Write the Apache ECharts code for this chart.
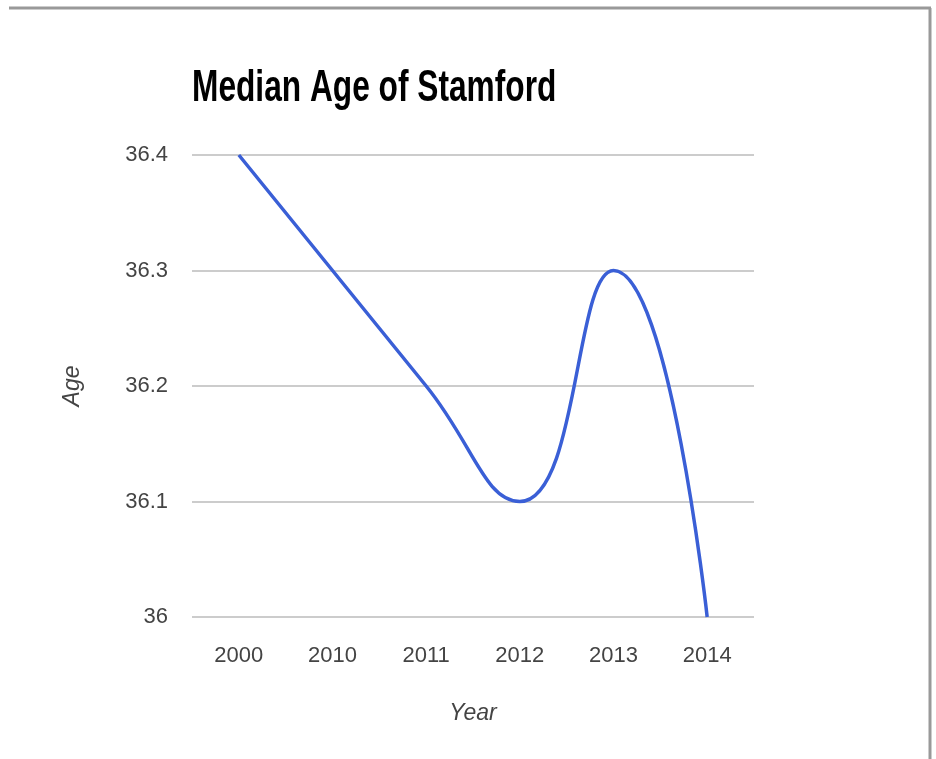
<!DOCTYPE html>
<html><head><meta charset="utf-8">
<script src="https://cdn.jsdelivr.net/npm/echarts@6/dist/echarts.min.js"></script>
<style>html,body{margin:0;padding:0;background:#fff}#c{width:936px;height:759px}</style>
</head><body><div id="c"></div>
<script>
const categories = ['2000','2010','2011','2012','2013','2014'];
const ageValues = [36.4, 36.3, 36.2, 36.1, 36.3, 36.0];
const titleText = 'Median Age of Stamford';
const xName = 'Year';
const yName = 'Age';
const FONT = '"Liberation Sans", Arial, sans-serif';
const chart = echarts.init(document.getElementById('c'), null, {renderer:'canvas'});
chart.setOption({
  backgroundColor: '#fff',
  animation: false,
  grid: {left: 192, right: 182, top: 155, bottom: 142},
  xAxis: {
    type: 'category', data: categories, boundaryGap: true,
    name: xName, nameLocation: 'middle', nameGap: 85,
    nameTextStyle: {fontFamily: FONT, fontStyle: 'italic', fontSize: 23, color: '#444'},
    axisLine: {show: false}, axisTick: {show: false},
    axisLabel: {fontFamily: FONT, fontSize: 22, color: '#444', margin: 28}
  },
  yAxis: {
    type: 'value', min: 36, max: 36.4, interval: 0.1,
    name: yName, nameLocation: 'middle', nameGap: 108, nameRotate: 90,
    nameTextStyle: {fontFamily: FONT, fontStyle: 'italic', fontSize: 23, color: '#444'},
    axisLine: {show: false}, axisTick: {show: false},
    axisLabel: {fontFamily: FONT, fontSize: 22, color: '#444', margin: 24},
    splitLine: {lineStyle: {color: '#cccccc', width: 2}}
  },
  series: [{
    type: 'line', data: ageValues, smooth: 0.5, symbol: 'none',
    lineStyle: {color: '#3a5fd6', width: 3.5}
  }],
  graphic: [
    {type: 'text', x: 192, y: 89, scaleX: 0.72,
     style: {text: titleText, font: 'bold 44px "Liberation Sans", Arial, sans-serif', fill: '#000', verticalAlign: 'middle', align: 'left'}},
    {type: 'line', shape: {x1: 9, y1: 8, x2: 931, y2: 8}, style: {stroke: '#999', lineWidth: 3}},
    {type: 'line', shape: {x1: 930, y1: 8, x2: 930, y2: 759}, style: {stroke: '#999', lineWidth: 3}}
  ]
});
</script></body></html>
